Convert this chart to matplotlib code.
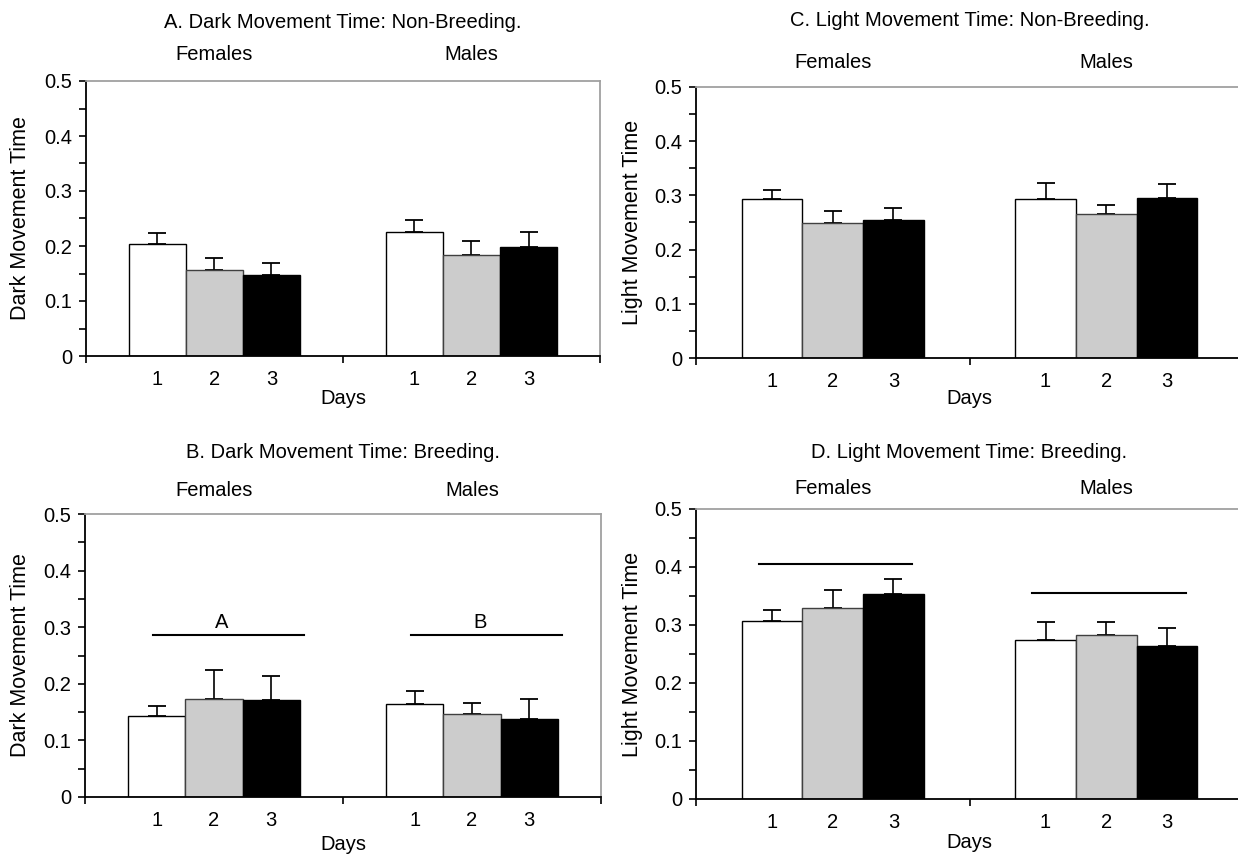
import matplotlib
matplotlib.use("Agg")
import matplotlib.pyplot as plt
import numpy as np
from matplotlib import transforms
from matplotlib.ticker import FixedLocator, FuncFormatter, MultipleLocator

plt.rcParams["font.family"] = ["Liberation Sans", "DejaVu Sans"]

# Categories.
groups = ["Females", "Males"]
days = ["1", "2", "3"]

# Means and standard errors, rows = groups, columns = days.
dark_nonbreeding = [[0.204, 0.156, 0.148], [0.225, 0.183, 0.199]]
dark_nonbreeding_err = [[0.020, 0.022, 0.021], [0.023, 0.027, 0.026]]

light_nonbreeding = [[0.293, 0.250, 0.255], [0.293, 0.265, 0.296]]
light_nonbreeding_err = [[0.017, 0.022, 0.021], [0.030, 0.017, 0.025]]

dark_breeding = [[0.143, 0.174, 0.171], [0.165, 0.147, 0.138]]
dark_breeding_err = [[0.017, 0.050, 0.042], [0.022, 0.019, 0.035]]

light_breeding = [[0.307, 0.329, 0.353], [0.275, 0.282, 0.264]]
light_breeding_err = [[0.019, 0.032, 0.027], [0.031, 0.024, 0.030]]

# Significance lines (height per group) and their letters.
dark_breeding_sig = [0.286, 0.286]
dark_breeding_letters = ["A", "B"]
light_breeding_sig = [0.405, 0.355]

FIG_W, FIG_H = 1238, 856
BAR_W = 0.222
DAY_COLORS = ["white", "#cccccc", "black"]
DAY_EDGES = ["black", "#404040", "black"]
FS = 14.5


def px_box(left, right, top, bottom):
    """Pixel box to figure fractions [l, b, w, h]."""
    return [left / FIG_W, 1 - bottom / FIG_H,
            (right - left) / FIG_W, (bottom - top) / FIG_H]


def draw_panel(fig, box, title, ylabel, means, errs,
               title_y, group_y, days_y, ylabel_x):
    ax = fig.add_axes(px_box(*box))
    fy = transforms.blended_transform_factory(ax.transAxes, fig.transFigure)
    gy = transforms.blended_transform_factory(ax.transData, fig.transFigure)

    centers = []
    for g in range(len(groups)):
        for d in range(len(days)):
            x = g + (d - 1) * BAR_W
            centers.append(x)
            ax.bar(x, means[g][d], BAR_W, color=DAY_COLORS[d],
                   edgecolor=DAY_EDGES[d], linewidth=1.0, zorder=2)
            ax.errorbar(x, means[g][d], yerr=[[0], [errs[g][d]]],
                        fmt="none", ecolor="black", elinewidth=1.2,
                        capsize=6.5, capthick=1.3, zorder=1)
        ax.text(g, 1 - group_y / FIG_H, groups[g], transform=gy,
                ha="center", va="center", fontsize=FS)

    ax.set_xlim(-0.5, 1.5)
    ax.set_ylim(0, 0.5)

    # Category boundaries as major ticks, day labels under the bars.
    ax.xaxis.set_major_locator(FixedLocator([-0.5, 0.5, 1.5]))
    ax.xaxis.set_major_formatter(FuncFormatter(lambda v, p: ""))
    ax.xaxis.set_minor_locator(FixedLocator(centers))
    ax.set_xticklabels(days * len(groups), minor=True)
    ax.tick_params(axis="x", which="major", direction="out", length=5,
                   width=1.2)
    ax.tick_params(axis="x", which="minor", length=0, pad=10,
                   labelsize=FS)

    ax.yaxis.set_major_locator(MultipleLocator(0.1))
    ax.yaxis.set_minor_locator(MultipleLocator(0.05))
    ax.yaxis.set_major_formatter(
        FuncFormatter(lambda v, p: "0" if abs(v) < 1e-9 else f"{v:.1f}"))
    ax.tick_params(axis="y", which="both", direction="out", length=5,
                   width=1.2, labelsize=FS, pad=5)

    for side in ("left", "bottom"):
        ax.spines[side].set_color("black")
        ax.spines[side].set_linewidth(1.3)
    for side in ("top", "right"):
        ax.spines[side].set_color("#a0a0a0")
        ax.spines[side].set_linewidth(1.3)

    ax.text(0.5, 1 - title_y / FIG_H, title, transform=fy,
            ha="center", va="center", fontsize=FS)
    ax.text(0.5, 1 - days_y / FIG_H, "Days", transform=fy,
            ha="center", va="center", fontsize=FS)
    ax.set_ylabel(ylabel, fontsize=15.5)
    ax.yaxis.set_label_coords((ylabel_x - box[0]) / (box[1] - box[0]), 0.5)
    return ax


fig = plt.figure(figsize=(FIG_W / 100, FIG_H / 100), dpi=100)

draw_panel(fig, (85.8, 600, 81, 356),
           "A. Dark Movement Time: Non-Breeding.", "Dark Movement Time",
           dark_nonbreeding, dark_nonbreeding_err,
           title_y=22, group_y=55, days_y=399, ylabel_x=31)

draw_panel(fig, (696, 1243, 87, 358),
           "C. Light Movement Time: Non-Breeding.", "Light Movement Time",
           light_nonbreeding, light_nonbreeding_err,
           title_y=20, group_y=63, days_y=399, ylabel_x=643)

ax_b = draw_panel(fig, (85, 601, 514, 797),
                  "B. Dark Movement Time: Breeding.", "Dark Movement Time",
                  dark_breeding, dark_breeding_err,
                  title_y=452, group_y=490, days_y=845, ylabel_x=31)
for g, (level, letter) in enumerate(zip(dark_breeding_sig,
                                        dark_breeding_letters)):
    ax_b.plot([g - 0.235, g + 0.35], [level, level], color="black",
              linewidth=1.5)
    ax_b.text(g + 0.03, level + 0.023, letter, ha="center", va="center",
              fontsize=FS)

ax_d = draw_panel(fig, (696, 1243, 509, 799),
                  "D. Light Movement Time: Breeding.", "Light Movement Time",
                  light_breeding, light_breeding_err,
                  title_y=452, group_y=489, days_y=843, ylabel_x=643)
for g, level in enumerate(light_breeding_sig):
    ax_d.plot([g - 0.27, g + 0.29], [level, level], color="black",
              linewidth=1.5)

fig.savefig("out.png", dpi=100, facecolor="white")
